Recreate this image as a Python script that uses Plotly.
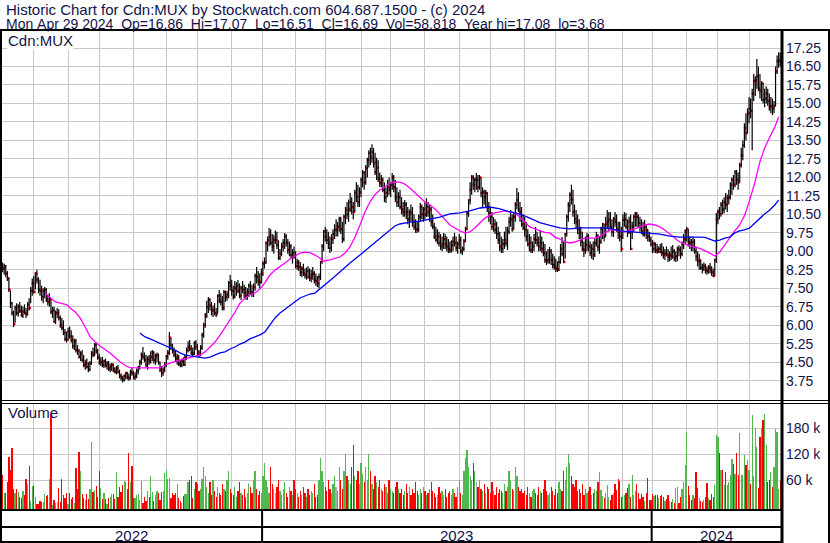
import plotly.graph_objects as go
import pandas as pd

W, H = 830, 543

# ---------------- trading calendar (TSX) ----------------
holidays = ["2022-05-23", "2022-07-01", "2022-08-01", "2022-09-05", "2022-10-10", "2022-12-26", "2022-12-27",
            "2023-01-02", "2023-02-20", "2023-04-07", "2023-05-22", "2023-07-03", "2023-08-07", "2023-09-04",
            "2023-10-09", "2023-12-25", "2023-12-26", "2024-01-01", "2024-02-19", "2024-03-29"]
dates = pd.bdate_range("2022-05-02", "2024-04-29")
dates = dates[~dates.isin(pd.to_datetime(holidays))]

# ---------------- daily bars ----------------
bar_high = [
    8.62, 8.55, 8.50, 8.45, 8.20, 7.95, 7.40, 6.95, 6.60, 6.80,
    6.90, 6.85, 6.95, 6.80, 6.75, 6.85, 6.70, 6.95, 7.10, 7.55,
    7.90, 8.00, 8.15, 8.25, 7.95, 7.85, 7.60, 7.50, 7.55, 7.50,
    7.25, 7.30, 7.10, 6.75, 6.75, 6.60, 6.70, 6.65, 6.40, 6.30,
    6.20, 5.85, 5.75, 5.90, 5.95, 5.80, 5.60, 5.45, 5.45, 5.20,
    5.05, 4.95, 5.00, 4.80, 4.60, 4.65, 4.50, 4.55, 4.95, 5.10,
    5.28, 5.30, 5.05, 4.85, 4.70, 4.72, 4.60, 4.65, 4.55, 4.55,
    4.45, 4.47, 4.45, 4.30, 4.35, 4.40, 4.20, 4.05, 3.95, 4.00,
    4.10, 4.10, 4.05, 4.20, 4.30, 4.15, 4.10, 4.25, 4.35, 4.60,
    4.90, 5.12, 4.90, 4.80, 4.75, 4.80, 4.95, 5.00, 4.95, 4.85,
    4.90, 4.85, 4.50, 4.35, 4.30, 4.50, 4.80, 5.00, 5.73, 5.50,
    5.25, 5.10, 5.00, 4.85, 4.80, 4.60, 4.65, 4.70, 4.80, 5.10,
    5.35, 5.40, 5.20, 5.10, 5.35, 5.40, 5.25, 5.00, 5.20, 5.70,
    6.10, 6.50, 7.00, 7.15, 7.10, 6.95, 6.80, 6.90, 6.70, 7.25,
    7.43, 7.30, 7.20, 7.43, 7.40, 7.40, 7.80, 8.04, 7.85, 7.60,
    7.80, 7.75, 7.84, 7.70, 7.60, 7.80, 7.65, 7.55, 7.50, 7.70,
    7.80, 7.65, 7.70, 8.10, 8.37, 8.20, 8.10, 8.30,
    8.60, 8.75, 9.40, 9.60, 9.95, 9.90, 9.70, 9.65, 9.85, 9.80,
    9.45, 9.10, 9.35, 9.50, 9.75, 9.70, 9.50, 9.40, 9.30, 9.10,
    9.20, 9.00, 8.70, 8.65, 8.57, 8.40, 8.50, 8.30, 8.35, 8.40,
    8.30, 8.25, 8.37, 8.20, 8.10, 8.00, 8.10, 8.60, 9.30, 9.87,
    10.00, 9.90, 9.80, 9.60, 9.70, 9.90, 10.10, 10.30, 10.20, 10.40,
    10.40, 10.20, 10.50, 10.80, 11.00, 11.10, 11.37, 11.20, 11.00, 11.50,
    11.80, 11.70, 11.60, 12.00, 12.30, 12.25, 12.50, 12.80, 13.10, 13.20,
    13.35, 13.20, 13.00, 12.80, 12.70, 12.20, 12.10, 12.00, 11.80, 11.60,
    11.90, 12.00, 11.80, 12.18, 12.10, 11.90, 11.60, 11.40, 11.50, 11.20,
    11.00, 11.08, 11.00, 10.80, 10.70, 10.90, 10.80, 10.50, 10.30, 10.20,
    10.50, 10.96, 10.90, 10.80, 11.00, 11.16, 11.00, 10.90, 10.80, 10.50,
    10.15, 10.00, 9.90, 9.80, 9.70, 9.60, 9.75, 9.70, 9.60, 9.50,
    9.40, 9.45, 9.60, 9.75, 9.60, 9.40, 9.70, 9.60, 9.20, 9.50,
    10.00, 10.60, 11.10, 11.80, 12.10, 12.10, 12.00, 12.18, 12.10, 12.10,
    12.00, 11.60, 11.50, 11.49, 11.40, 11.00, 10.80, 10.60, 10.39, 10.30,
    10.20, 10.00, 9.80, 9.60, 9.50, 9.80, 10.00, 10.00, 10.40, 10.68,
    10.50, 10.60, 11.00, 11.57, 11.40, 11.00, 10.80, 10.50, 10.39, 10.20,
    9.90, 9.70, 9.60, 9.40, 9.70, 9.99, 9.80, 9.60, 9.87, 9.60,
    9.40, 9.30, 9.00, 9.10, 9.18, 9.10, 8.90, 8.80, 8.70, 8.60,
    8.80, 9.30, 9.58, 9.40, 9.75, 10.50, 11.00, 11.40, 11.70, 11.50,
    10.90, 10.68, 10.50, 10.30, 10.00, 9.80, 9.40, 9.60, 9.75, 9.70,
    9.40, 9.30, 9.40, 9.50, 9.80, 9.70, 9.60, 10.00, 10.15, 10.10,
    10.40, 10.68, 10.60, 10.60, 10.30, 10.40, 10.60, 10.50, 10.20, 10.20,
    10.00, 10.50, 10.60, 10.56, 10.30, 10.40, 10.50, 10.20, 10.50, 10.60,
    10.60, 10.50, 10.40, 10.30, 10.20, 10.27, 10.10, 9.90, 9.80, 9.60,
    9.46, 9.40, 9.35, 9.30, 9.20, 9.30, 9.34, 9.20, 9.10, 9.20,
    9.10, 9.00, 9.20, 9.26, 9.10, 9.00, 9.20, 9.25, 9.20, 9.40,
    9.70, 9.90, 10.00, 9.90, 9.60, 9.50, 9.60, 9.50, 9.20, 9.00,
    8.90, 8.65, 8.50, 8.55, 8.50, 8.40, 8.45, 8.53, 8.40, 8.30,
    8.70, 10.56, 10.70, 10.80, 11.00, 11.10, 11.20, 11.37, 11.30, 11.50,
    11.80, 12.00, 12.10, 12.30, 12.30, 12.20, 12.60, 13.20, 13.50, 14.20,
    14.60, 14.80, 15.26, 15.20, 15.60, 16.20, 16.10, 16.80, 16.50, 16.20,
    15.90, 15.83, 15.60, 15.70, 15.60, 15.40, 15.26, 15.20, 15.10, 16.50,
    16.95, 17.08, 17.07,
]
bar_low = [
    8.20, 8.15, 8.05, 7.95, 7.80, 7.35, 6.70, 6.40, 5.93, 6.10,
    6.40, 6.35, 6.50, 6.35, 6.30, 6.45, 6.30, 6.40, 6.60, 6.90,
    7.20, 7.30, 7.45, 7.70, 7.30, 7.20, 7.00, 6.90, 7.10, 6.95,
    6.80, 6.75, 6.45, 6.30, 6.10, 6.05, 6.30, 6.20, 5.90, 5.80,
    5.60, 5.35, 5.30, 5.40, 5.45, 5.30, 5.05, 5.00, 4.90, 4.80,
    4.65, 4.55, 4.50, 4.30, 4.20, 4.25, 4.10, 4.15, 4.40, 4.70,
    4.75, 4.85, 4.60, 4.40, 4.35, 4.30, 4.27, 4.30, 4.20, 4.15,
    4.10, 4.15, 4.10, 4.07, 4.00, 4.05, 3.85, 3.75, 3.68, 3.72,
    3.80, 3.80, 3.75, 3.80, 3.95, 3.80, 3.78, 3.85, 4.00, 4.20,
    4.40, 4.60, 4.50, 4.30, 4.20, 4.40, 4.45, 4.55, 4.45, 4.40,
    4.50, 4.40, 4.10, 3.90, 3.95, 4.10, 4.30, 4.60, 4.80, 5.00,
    4.85, 4.70, 4.55, 4.40, 4.35, 4.30, 4.30, 4.35, 4.35, 4.60,
    4.90, 4.95, 4.80, 4.72, 4.80, 5.00, 4.80, 4.70, 4.75, 5.00,
    5.50, 5.90, 6.30, 6.50, 6.60, 6.40, 6.34, 6.40, 6.34, 6.50,
    6.90, 6.80, 6.60, 6.60, 6.95, 7.00, 7.10, 7.40, 7.20, 7.05,
    7.10, 7.20, 7.30, 7.10, 7.03, 7.30, 7.10, 7.05, 7.03, 7.15,
    7.25, 7.15, 7.15, 7.40, 7.70, 7.60, 7.50, 7.70,
    8.00, 8.30, 8.50, 9.00, 9.20, 9.25, 9.00, 8.90, 9.30, 9.10,
    8.65, 8.65, 8.80, 9.00, 9.10, 9.20, 8.90, 8.80, 8.70, 8.50,
    8.70, 8.30, 8.25, 8.20, 8.00, 7.95, 8.00, 7.90, 7.85, 7.90,
    7.80, 7.75, 7.85, 7.70, 7.60, 7.55, 7.50, 7.84, 8.50, 9.00,
    9.40, 9.30, 9.10, 8.93, 9.00, 9.30, 9.50, 9.60, 9.60, 9.80,
    9.70, 9.34, 9.40, 10.10, 10.30, 10.20, 10.60, 10.50, 10.30, 10.60,
    11.00, 10.80, 10.80, 11.20, 11.60, 11.50, 11.70, 12.00, 12.40, 12.50,
    12.60, 12.40, 12.10, 11.90, 11.80, 11.61, 11.60, 11.40, 11.00, 10.96,
    11.20, 11.30, 11.20, 11.50, 11.40, 11.00, 10.80, 10.80, 10.70, 10.50,
    10.40, 10.40, 10.30, 10.10, 9.95, 10.20, 10.00, 9.87, 9.75, 9.75,
    9.80, 10.20, 10.30, 10.20, 10.30, 10.40, 10.40, 10.20, 10.00, 9.90,
    9.50, 9.40, 9.30, 9.20, 9.06, 9.00, 9.10, 9.10, 9.00, 8.93,
    8.93, 8.95, 9.00, 9.20, 9.00, 8.90, 9.10, 8.90, 8.85, 9.00,
    9.40, 9.87, 10.40, 10.90, 11.30, 11.50, 11.40, 11.50, 11.40, 11.50,
    11.20, 10.80, 10.90, 10.80, 10.60, 10.20, 10.10, 9.87, 9.80, 9.70,
    9.50, 9.30, 9.00, 8.93, 8.93, 9.10, 9.20, 9.06, 9.70, 10.00,
    9.80, 9.90, 10.20, 10.70, 10.60, 10.20, 10.00, 9.87, 9.60, 9.40,
    9.20, 9.00, 8.93, 8.93, 9.00, 9.30, 9.20, 9.00, 9.00, 8.93,
    8.80, 8.53, 8.45, 8.50, 8.50, 8.45, 8.30, 8.25, 8.16, 8.16,
    8.20, 8.50, 8.80, 8.53, 8.70, 9.60, 10.20, 10.60, 10.90, 10.40,
    10.10, 9.90, 9.70, 9.50, 9.20, 9.00, 8.77, 8.90, 9.00, 9.00,
    8.80, 8.70, 8.65, 8.77, 9.20, 9.00, 8.90, 9.30, 9.50, 9.40,
    9.60, 9.90, 9.80, 9.90, 9.60, 9.58, 10.00, 9.80, 9.50, 9.40,
    8.97, 9.50, 10.00, 9.90, 9.58, 9.70, 9.06, 9.50, 9.80, 10.00,
    10.00, 9.95, 9.80, 9.70, 9.60, 9.60, 9.50, 9.40, 9.38, 9.20,
    8.93, 8.95, 8.93, 8.90, 8.93, 8.93, 8.80, 8.70, 8.65, 8.80,
    8.57, 8.60, 8.65, 8.70, 8.60, 8.57, 8.60, 8.80, 8.70, 8.80,
    9.10, 9.30, 9.40, 9.20, 9.10, 9.00, 9.00, 8.90, 8.60, 8.40,
    8.25, 8.25, 8.10, 8.20, 8.10, 8.05, 8.10, 8.10, 8.00, 7.96,
    8.00, 8.53, 10.10, 10.30, 10.40, 10.50, 10.55, 10.70, 10.60, 10.90,
    11.10, 11.30, 11.50, 11.60, 11.70, 11.50, 11.80, 12.40, 12.70, 13.20,
    13.50, 13.80, 14.20, 14.40, 13.10, 15.10, 15.30, 15.60, 15.50, 15.20,
    15.10, 15.00, 14.85, 15.00, 14.90, 14.70, 14.60, 14.53, 14.60, 14.90,
    16.20, 16.45, 16.51,
]
bar_close = [
    8.45, 8.30, 8.40, 8.10, 7.90, 7.45, 6.90, 6.50, 6.05, 6.70,
    6.50, 6.75, 6.60, 6.40, 6.55, 6.50, 6.45, 6.85, 6.70, 7.40,
    7.70, 7.35, 8.10, 7.85, 7.45, 7.40, 7.15, 7.40, 7.45, 7.05,
    6.95, 7.05, 6.55, 6.60, 6.15, 6.50, 6.50, 6.30, 6.00, 5.90,
    5.70, 5.45, 5.40, 5.75, 5.55, 5.40, 5.15, 5.35, 5.00, 4.95,
    4.72, 4.85, 4.60, 4.39, 4.45, 4.31, 4.20, 4.45, 4.88, 4.80,
    5.20, 4.95, 4.70, 4.50, 4.51, 4.40, 4.55, 4.35, 4.45, 4.25,
    4.31, 4.40, 4.20, 4.10, 4.25, 4.10, 3.95, 3.86, 3.80, 3.95,
    4.07, 3.90, 3.85, 4.10, 4.05, 3.90, 3.95, 4.15, 4.30, 4.50,
    4.80, 4.72, 4.60, 4.40, 4.65, 4.55, 4.72, 4.90, 4.60, 4.75,
    4.80, 4.50, 4.20, 4.07, 4.20, 4.40, 4.75, 4.88, 5.50, 5.20,
    4.95, 4.80, 4.65, 4.70, 4.45, 4.39, 4.55, 4.40, 4.70, 5.00,
    5.12, 5.05, 4.88, 4.85, 5.28, 5.12, 4.90, 4.80, 5.10, 5.61,
    6.00, 6.40, 6.74, 7.03, 6.80, 6.60, 6.62, 6.50, 6.45, 7.20,
    7.00, 6.95, 6.70, 7.35, 7.15, 7.25, 7.72, 7.60, 7.40, 7.15,
    7.51, 7.60, 7.40, 7.20, 7.50, 7.45, 7.31, 7.20, 7.35, 7.60,
    7.35, 7.30, 7.55, 8.00, 7.96, 7.80, 7.75, 8.10,
    8.50, 8.55, 9.34, 9.46, 9.60, 9.34, 9.20, 9.46, 9.46, 9.25,
    8.75, 8.90, 9.20, 9.34, 9.60, 9.34, 9.06, 9.20, 8.85, 8.93,
    8.80, 8.40, 8.55, 8.37, 8.15, 8.30, 8.12, 8.04, 8.20, 7.95,
    7.92, 8.04, 8.10, 7.84, 7.80, 7.70, 7.95, 8.57, 9.20, 9.80,
    9.60, 9.46, 9.30, 9.14, 9.50, 9.70, 9.87, 9.87, 10.00, 10.30,
    9.90, 9.50, 10.40, 10.68, 10.50, 10.70, 11.00, 10.80, 10.60, 11.37,
    11.20, 11.00, 11.40, 11.90, 12.20, 11.80, 12.38, 12.70, 12.99, 12.80,
    13.03, 12.60, 12.22, 12.40, 11.95, 11.77, 11.90, 11.50, 11.20, 11.37,
    11.61, 11.50, 11.70, 12.00, 11.60, 11.20, 11.00, 11.20, 10.80, 10.70,
    10.60, 10.90, 10.60, 10.30, 10.60, 10.55, 10.20, 10.00, 9.90, 9.87,
    10.40, 10.80, 10.50, 10.70, 10.50, 10.80, 10.60, 10.70, 10.20, 10.00,
    9.60, 9.46, 9.60, 9.34, 9.20, 9.30, 9.50, 9.30, 9.20, 9.10,
    9.06, 9.25, 9.40, 9.34, 9.15, 9.30, 9.46, 9.00, 9.10, 9.40,
    9.90, 10.56, 11.08, 11.50, 12.00, 11.70, 11.90, 11.90, 11.60, 12.00,
    11.37, 11.40, 11.20, 11.37, 10.80, 10.56, 10.40, 10.00, 10.10, 9.87,
    9.70, 9.46, 9.20, 9.10, 9.30, 9.46, 9.34, 9.80, 10.20, 10.30,
    9.90, 10.40, 10.90, 11.08, 10.70, 10.60, 10.10, 9.95, 9.87, 9.60,
    9.30, 9.34, 9.06, 9.20, 9.50, 9.46, 9.34, 9.20, 9.34, 9.10,
    8.93, 8.65, 8.60, 8.65, 9.00, 8.65, 8.45, 8.37, 8.30, 8.25,
    8.57, 9.10, 8.90, 8.57, 9.70, 10.40, 10.88, 11.29, 11.10, 10.60,
    10.30, 10.19, 9.90, 9.75, 9.40, 9.10, 9.06, 9.26, 9.60, 9.20,
    8.93, 9.10, 8.85, 9.34, 9.60, 9.18, 9.40, 9.90, 10.10, 9.60,
    10.10, 10.20, 10.30, 10.00, 9.80, 10.30, 10.20, 9.90, 9.80, 9.60,
    9.10, 10.27, 10.30, 10.00, 9.80, 10.20, 9.10, 10.00, 10.40, 10.52,
    10.40, 10.15, 10.00, 9.80, 9.70, 10.00, 9.87, 9.60, 9.46, 9.30,
    9.10, 9.30, 9.06, 9.00, 9.10, 8.97, 8.93, 8.85, 8.93, 8.85,
    8.77, 8.85, 8.80, 9.00, 8.75, 8.80, 9.10, 9.06, 8.90, 9.30,
    9.50, 9.80, 9.90, 9.38, 9.34, 9.20, 9.38, 9.00, 8.80, 8.60,
    8.65, 8.33, 8.30, 8.40, 8.25, 8.20, 8.35, 8.25, 8.15, 8.00,
    8.65, 10.30, 10.60, 10.52, 10.90, 10.70, 11.00, 10.90, 11.16, 11.20,
    11.70, 11.90, 11.70, 12.20, 11.90, 11.80, 12.50, 12.90, 13.30, 14.00,
    13.80, 14.60, 14.80, 14.70, 15.40, 15.90, 15.95, 16.10, 15.60, 15.50,
    15.83, 15.14, 15.20, 15.40, 15.10, 14.85, 14.90, 14.80, 14.90, 16.30,
    16.72, 16.75, 16.69,
]
# daily volume, thousands of shares
volume_k = [
    48, 71, 30, 30, 55, 113, 83, 134, 39, 30, 39, 32, 20, 18, 35, 25,
    62, 51, 92, 12, 46, 46, 20, 5, 5, 12, 9, 9, 28, 22, 25, 62,
    215, 2, 14, 7, 10, 42, 9, 62, 25, 18, 30, 5, 30, 16, 20, 7,
    88, 40, 125, 81, 28, 18, 14, 28, 16, 40, 148, 32, 37, 46, 20, 81,
    42, 16, 30, 16, 5, 18, 20, 28, 28, 16, 78, 20, 44, 32, 48, 58,
    55, 40, 122, 55, 92, 18, 18, 25, 28, 15, 58, 7, 20, 12, 35, 20,
    69, 32, 12, 25, 35, 30, 14, 32, 35, 76, 83, 62, 65, 18, 30, 25,
    30, 51, 18, 12, 7, 23, 28, 28, 55, 60, 69, 18, 40, 55, 50, 35,
    40, 62, 90, 70, 45, 30, 55, 25, 60, 35, 20, 45, 30, 25, 50, 40,
    35, 60, 80, 40, 30, 25, 45, 20, 35, 55, 30, 25, 40, 20, 30, 50,
    45, 30, 60, 80, 40, 25, 35, 30, 70, 100, 60, 45, 30, 90, 50, 40,
    30, 45, 60, 35, 25, 40, 55, 30, 20, 45, 35, 25, 60, 40, 30, 20,
    35, 25, 45, 30, 20, 40, 25, 35, 30, 50, 20, 25, 60, 110, 80, 55,
    45, 35, 60, 40, 30, 50, 70, 45, 35, 90, 60, 40, 80, 120, 70, 60,
    50, 90, 140, 70, 60, 80, 50, 100, 75, 55, 90, 60, 120, 80, 50, 40,
    70, 55, 45, 60, 40, 35, 50, 45, 30, 60, 40, 35, 30, 45, 55, 40,
    30, 40, 25, 35, 50, 30, 45, 25, 40, 30, 55, 35, 25, 40, 30, 45,
    35, 25, 30, 40, 55, 35, 30, 20, 25, 45, 30, 35, 25, 40, 20, 30,
    35, 25, 40, 30, 20, 45, 60, 30, 25, 80, 110, 130, 90, 70, 60, 100,
    80, 55, 45, 60, 40, 35, 50, 30, 45, 40, 30, 55, 35, 25, 45, 30,
    40, 35, 30, 50, 35, 45, 80, 60, 40, 35, 90, 70, 45, 35, 40, 30,
    35, 25, 45, 30, 20, 35, 40, 30, 25, 45, 35, 30, 40, 60, 35, 25,
    30, 45, 35, 25, 40, 30, 55, 40, 35, 80, 60, 90, 120, 100, 70, 50,
    45, 60, 35, 40, 30, 50, 25, 40, 30, 35, 45, 25, 30, 40, 35, 55,
    78, 37, 22, 18, 30, 48, 20, 15, 25, 30, 51, 37, 62, 58, 20, 25,
    25, 30, 42, 51, 20, 72, 25, 35, 51, 30, 16, 28, 20, 12, 30, 65,
    14, 14, 28, 23, 25, 25, 18, 23, 25, 21, 12,
    16, 25, 12, 10, 16, 7, 42, 44, 7, 20, 39, 55, 95, 171, 46, 25,
    14, 25, 18, 78, 42, 18, 12, 10, 15, 21, 53, 18, 14, 28, 20, 48,
    164, 159, 122, 83, 83, 48, 78, 48, 55, 72, 108, 97, 74, 122, 72, 168,
    72, 72, 118, 95, 106, 83, 50, 210, 69, 180, 136, 42, 160, 180, 198, 212,
    140, 55, 60, 78, 45, 90, 178, 171, 40, 58.8,
]

# moving averages: (bar index, price)
ma_fast_idx = [28.2, 34.6, 42.3, 44.3, 47.5, 50.7, 53.9, 57.1, 60.3, 63.5, 69.9, 76.3, 80.2, 82.7, 92.4, 102.0,
               105.2, 108.4, 114.8, 121.2, 127.6, 130.9, 134.1, 137.3, 140.5, 143.7, 146.9, 150.1, 153.3, 156.5,
               159.7, 162.9, 166.1, 169.3, 172.5, 175.8, 179.0, 182.2, 185.4, 188.6, 191.8, 195.0, 198.2, 201.4,
               204.6, 206.5, 211.0, 217.4, 220.7, 223.9, 227.1, 230.3, 233.5, 236.7, 239.9, 243.1, 246.3, 249.5,
               252.7, 255.9, 259.1, 262.3, 265.6, 268.8, 272.0, 275.2, 278.4, 281.6, 284.8, 288.0, 291.2, 294.4,
               297.6, 300.8, 304.0, 307.3, 310.5, 313.7, 316.9, 320.1, 323.3, 326.5, 329.7, 332.9, 336.1, 339.3,
               342.5, 345.7, 348.9, 352.2, 355.4, 358.6, 361.8, 365.0, 368.2, 371.4, 374.6, 381.0, 384.2, 387.4,
               390.6, 393.8, 397.0, 400.3, 403.5, 406.7, 409.9, 413.1, 416.3, 419.5, 422.7, 425.9, 429.1, 432.3,
               435.5, 441.9, 448.4, 454.8, 458.0, 461.2, 464.4, 467.6, 470.8, 474.0, 477.2, 480.4, 483.6, 486.8,
               490.0, 493.3, 496.5, 499.0]
ma_fast_val = [7.31, 6.96, 6.83, 6.70, 6.55, 6.30, 5.94, 5.54, 5.33, 5.16, 4.88, 4.52, 4.35, 4.28, 4.27, 4.27,
               4.39, 4.47, 4.59, 4.71, 4.80, 4.92, 5.12, 5.32, 5.60, 5.89, 6.22, 6.54, 6.90, 7.10,
               7.23, 7.31, 7.47, 7.72, 8.04, 8.24, 8.37, 8.53, 8.69, 8.81, 8.93, 8.97, 8.95, 8.85,
               8.73, 8.60, 8.65, 8.77, 8.93, 9.18, 9.58, 10.07, 10.60, 11.00, 11.30, 11.49, 11.61, 11.77,
               11.81, 11.81, 11.73, 11.57, 11.37, 11.16, 11.00, 10.88, 10.72, 10.52, 10.31, 10.07, 9.95, 9.83,
               9.75, 9.79, 9.95, 10.15, 10.35, 10.47, 10.56, 10.60, 10.64, 10.60, 10.56, 10.39, 10.19, 9.99,
               9.91, 9.85, 9.77, 9.75, 9.58, 9.50, 9.38, 9.34, 9.38, 9.46, 9.54, 9.54, 9.60, 9.75,
               9.87, 9.87, 9.83, 9.79, 9.83, 9.91, 9.99, 10.07, 10.11, 10.07, 9.99, 9.87, 9.70, 9.54,
               9.38, 9.22, 9.12, 8.93, 8.81, 8.97, 9.26, 9.54, 9.83, 10.07, 10.47, 11.08, 11.77, 12.60,
               13.19, 13.64, 14.04, 14.45]
ma_slow_idx = [89.1, 92.4, 95.6, 98.8, 102.0, 105.2, 108.4, 111.6, 114.8, 118.0, 121.2, 124.4, 127.6, 130.9,
               134.1, 137.3, 140.5, 143.7, 146.9, 150.1, 153.3, 156.5, 159.7, 162.9, 166.1, 169.3, 172.5, 175.8,
               179.0, 182.2, 185.4, 188.6, 191.8, 195.0, 198.2, 201.4, 204.6, 213.0, 217.4, 223.9, 230.3, 236.7,
               243.1, 249.5, 252.7, 255.9, 259.1, 262.3, 268.8, 275.2, 281.6, 288.0, 294.4, 300.8, 307.3, 313.7,
               320.1, 326.5, 332.9, 339.3, 345.7, 352.2, 358.6, 365.0, 371.4, 384.2, 390.6, 397.0, 403.5, 409.9,
               416.3, 422.7, 429.1, 435.5, 448.4, 451.6, 454.8, 458.0, 461.2, 464.4, 467.6, 470.8, 474.0, 477.2,
               480.4, 483.6, 486.8, 490.0, 493.3, 496.5, 499.0]
ma_slow_val = [5.69, 5.53, 5.45, 5.36, 5.28, 5.20, 5.08, 5.00, 4.88, 4.80, 4.76, 4.72, 4.68, 4.67,
               4.71, 4.80, 4.88, 4.92, 5.04, 5.12, 5.24, 5.32, 5.45, 5.53, 5.61, 5.73, 6.01, 6.30,
               6.50, 6.66, 6.82, 6.95, 7.11, 7.19, 7.27, 7.31, 7.47, 7.92, 8.16, 8.53, 8.85, 9.18,
               9.54, 9.87, 10.03, 10.11, 10.15, 10.19, 10.23, 10.31, 10.39, 10.52, 10.56, 10.64, 10.76, 10.80,
               10.72, 10.60, 10.52, 10.35, 10.17, 10.05, 9.95, 9.91, 9.95, 9.95, 9.93, 9.83, 9.79, 9.75,
               9.74, 9.70, 9.62, 9.58, 9.58, 9.57, 9.50, 9.42, 9.46, 9.54, 9.58, 9.75, 9.83, 9.87,
               9.95, 10.15, 10.35, 10.52, 10.68, 10.88, 11.08]

price_ticks = [3.75, 4.50, 5.25, 6.00, 6.75, 7.50, 8.25, 9.00, 9.75, 10.50, 11.25, 12.00, 12.75, 13.50,
               14.25, 15.00, 15.75, 16.50, 17.25]
volume_ticks = [60, 120, 180]
volume_tick_text = ["60 k", "120 k", "180 k"]
header_1 = "Historic Chart for Cdn:MUX by Stockwatch.com 604.687.1500 - (c) 2024"
header_2 = ("Mon Apr 29 2024  Op=16.86  Hi=17.07  Lo=16.51  Cl=16.69  Vol=58,818  "
            "Year hi=17.08  lo=3.68")
symbol_label = "Cdn:MUX"

n = len(dates)
assert len(bar_high) == n and len(bar_low) == n and len(bar_close) == n and len(volume_k) == n, \
    (n, len(bar_high), len(bar_low), len(bar_close), len(volume_k))

idx = list(range(n))
month_starts = [i for i in idx if i == 0 or dates[i].month != dates[i - 1].month]
year_starts = [i for i in idx if i > 0 and dates[i].year != dates[i - 1].year]
years = sorted(set(d.year for d in dates))

# ---------------- styling ----------------
FONT = "Liberation Sans, Arial, sans-serif"
TXT = "#12124a"
GRID = "#c8c8c8"
UP, DOWN, FLAT = "#4fb84f", "#ff0000", "#a8a8a8"
X_RANGE = [-0.7, n - 0.5]
VOL_FLOOR = -6.9

vol_colors = []
for i in idx:
    if i == 0 or bar_close[i] == bar_close[i - 1]:
        vol_colors.append(FLAT)
    elif bar_close[i] > bar_close[i - 1]:
        vol_colors.append(UP)
    else:
        vol_colors.append(DOWN)

bx, by = [], []
for i in idx:
    bx += [i, i, None]
    by += [bar_low[i], bar_high[i], None]

fig = go.Figure()
# close ticks drawn first so the next bar partly covers them
fig.add_trace(go.Scatter(x=[i + 0.45 for i in idx], y=bar_close, mode="markers",
                         marker=dict(symbol="square", size=2.4, color="#ff0000", line=dict(width=0)),
                         xaxis="x", yaxis="y", hoverinfo="skip"))
fig.add_trace(go.Scatter(x=bx, y=by, mode="lines", line=dict(color="black", width=1.2),
                         xaxis="x", yaxis="y", hoverinfo="skip"))
fig.add_trace(go.Scatter(x=ma_fast_idx, y=ma_fast_val, mode="lines", line=dict(color="#ff00ff", width=1.3),
                         xaxis="x", yaxis="y"))
fig.add_trace(go.Scatter(x=ma_slow_idx, y=ma_slow_val, mode="lines", line=dict(color="#0000ee", width=1.3),
                         xaxis="x", yaxis="y"))
fig.add_trace(go.Bar(x=idx, y=[v - VOL_FLOOR for v in volume_k], base=VOL_FLOOR,
                     marker=dict(color=vol_colors, line=dict(width=0)), width=0.8,
                     xaxis="x2", yaxis="y2", hoverinfo="skip"))


def px_x(x):
    return x / W


def px_y(y):
    return 1 - y / H


axis_common = dict(range=X_RANGE, domain=[0, px_x(781)], tickvals=month_starts, showticklabels=False,
                   ticks="", showgrid=True, gridcolor=GRID, gridwidth=1, zeroline=False, showline=False,
                   fixedrange=True)
fig.update_layout(
    width=W, height=H, margin=dict(l=0, r=0, t=0, b=0),
    paper_bgcolor="white", plot_bgcolor="white", showlegend=False, bargap=0,
    xaxis=dict(anchor="y", **axis_common),
    xaxis2=dict(anchor="y2", **axis_common),
    yaxis=dict(domain=[px_y(400), px_y(31)], range=[2.97, 17.94], side="right", anchor="x",
               tickvals=price_ticks, ticktext=[f"{v:.2f}" for v in price_ticks], ticks="",
               showgrid=True, gridcolor=GRID, gridwidth=1, zeroline=False, showline=False,
               tickfont=dict(family=FONT, size=14, color=TXT), ticklabelstandoff=4, fixedrange=True),
    yaxis2=dict(domain=[px_y(509), px_y(403)], range=[VOL_FLOOR, 237.7], side="right", anchor="x2",
                tickvals=volume_ticks, ticktext=volume_tick_text, ticks="",
                showgrid=True, gridcolor=GRID, gridwidth=1, zeroline=False, showline=False,
                tickfont=dict(family=FONT, size=14, color=TXT), ticklabelstandoff=4, fixedrange=True),
)

shapes = []


def hline(y, x0, x1, w):
    shapes.append(dict(type="line", xref="paper", yref="paper", x0=px_x(x0), x1=px_x(x1),
                       y0=px_y(y), y1=px_y(y), line=dict(color="black", width=w), layer="above"))


def vline(x, y0, y1, w):
    shapes.append(dict(type="line", xref="paper", yref="paper", x0=px_x(x), x1=px_x(x),
                       y0=px_y(y0), y1=px_y(y1), line=dict(color="black", width=w), layer="above"))


hline(30, 0, 830, 2)
hline(400.5, 0, 830, 1)
hline(403.5, 0, 830, 1)
hline(510, 0, 782, 2)
hline(527, 0, 782, 2)
hline(542, 0, 782, 2)
vline(1, 30, 543, 2)
vline(782, 30, 543, 3)
vline(829, 30, 543, 2)
for ys in year_starts:
    shapes.append(dict(type="line", xref="x2", yref="paper", x0=ys - 0.5, x1=ys - 0.5,
                       y0=px_y(510), y1=px_y(543), line=dict(color="black", width=2), layer="above"))
# white box behind the "Volume" caption
shapes.append(dict(type="rect", xref="paper", yref="paper", x0=px_x(3), x1=px_x(55),
                   y0=px_y(421), y1=px_y(405), fillcolor="white", line=dict(width=0), layer="between"))
fig.update_layout(shapes=shapes)

nb = "\u00a0"
ann = [
    dict(text=header_1, x=px_x(5), y=px_y(9.5), xanchor="left", yanchor="middle", size=15),
    dict(text=header_2.replace(" ", nb), x=px_x(5), y=px_y(23.5), xanchor="left", yanchor="middle", size=14),
    dict(text=symbol_label, x=px_x(7), y=px_y(40.5), xanchor="left", yanchor="middle", bgcolor="white", size=15),
    dict(text="Volume", x=px_x(7), y=px_y(412.5), xanchor="left", yanchor="middle", size=15),
]
bounds = [-0.5] + [ys - 0.5 for ys in year_starts] + [n - 0.5]
for k, yr in enumerate(years):
    ann.append(dict(text=str(yr), xref="x2", x=(bounds[k] + bounds[k + 1]) / 2, y=px_y(535),
                    xanchor="center", yanchor="middle", size=15))
for a in ann:
    a.setdefault("xref", "paper")
    a["yref"] = "paper"
    a["showarrow"] = False
    a["font"] = dict(family=FONT, size=a.pop("size"), color=TXT)
    a["borderpad"] = 0
fig.update_layout(annotations=ann)

fig.write_html("out.html", config={"displayModeBar": False, "staticPlot": True},
               post_script="document.body.style.margin='0px';document.body.style.overflow='hidden';")
